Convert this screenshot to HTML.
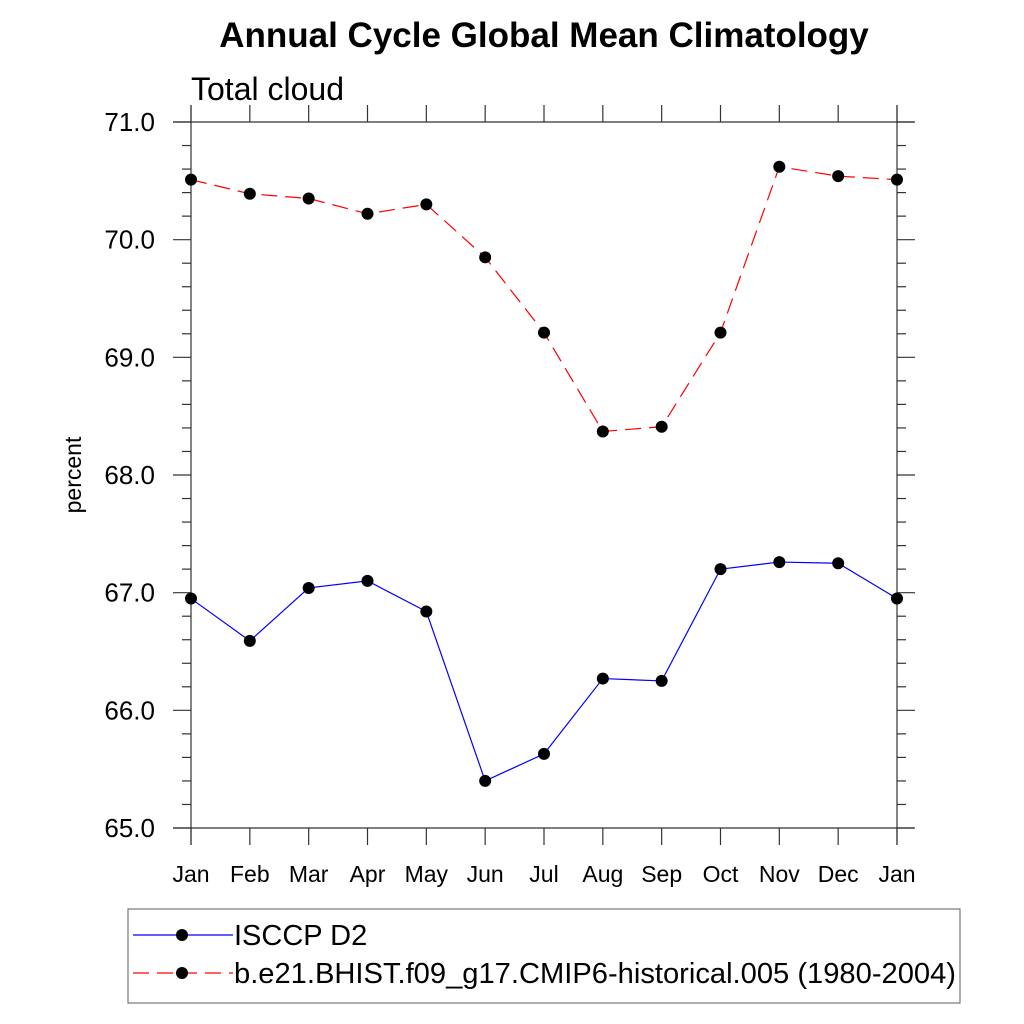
<!DOCTYPE html>
<html><head><meta charset="utf-8"><style>
body{margin:0;background:#fff;}
svg{display:block;font-family:"Liberation Sans",Arial,sans-serif;}
</style></head><body>
<svg id="chart" width="1024" height="1024" viewBox="0 0 1024 1024" xmlns="http://www.w3.org/2000/svg">
<rect width="1024" height="1024" fill="#fff"/>
<text x="544" y="47" text-anchor="middle" font-size="35" font-weight="bold">Annual Cycle Global Mean Climatology</text>
<text x="191" y="100" font-size="32">Total cloud</text>
<text transform="translate(81,475) rotate(-90)" text-anchor="middle" font-size="23">percent</text>
<g id="axes"></g>
<g id="series"></g>
<g>
<rect x="128" y="909" width="832" height="94" fill="none" stroke="#777" stroke-width="1.2"/>
<g>
<line x1="133" y1="935" x2="233" y2="935" stroke="#00f" stroke-width="1.2"/>
<circle cx="182" cy="935" r="6" fill="#000"/>
<text x="234" y="945" font-size="29">ISCCP D2</text>
</g>
<g>
<line x1="133" y1="973" x2="233" y2="973" stroke="#f00" stroke-width="1.2" stroke-dasharray="16,8"/>
<circle cx="182" cy="973" r="6" fill="#000"/>
<text x="234" y="983" font-size="29" textLength="722" lengthAdjust="spacingAndGlyphs">b.e21.BHIST.f09_g17.CMIP6-historical.005 (1980-2004)</text>
</g>
</g>
</svg>
<script>
const months = ["Jan","Feb","Mar","Apr","May","Jun","Jul","Aug","Sep","Oct","Nov","Dec","Jan"];
const isccp = [66.95,66.59,67.04,67.10,66.84,65.40,65.63,66.27,66.25,67.20,67.26,67.25,66.95];
const cmip6 = [70.51,70.39,70.35,70.22,70.30,69.85,69.21,68.37,68.41,69.21,70.62,70.54,70.51];
const yTicks = [65,66,67,68,69,70,71];
const yTickLabels = ["65.0","66.0","67.0","68.0","69.0","70.0","71.0"];

const NS="http://www.w3.org/2000/svg";
const X0=191,X1=897,Y0=828,Y1=122,YMIN=65,YMAX=71;
function xs(i){return X0+(X1-X0)*i/(months.length-1);}
function ys(v){return Y0-(v-YMIN)/(YMAX-YMIN)*(Y0-Y1);}
function mk(tag,attrs,parent){const e=document.createElementNS(NS,tag);for(const k in attrs)e.setAttribute(k,attrs[k]);parent.appendChild(e);return e;}
const ax=document.getElementById('axes');
const st="#333";
let l;
l=mk('line',{x1:173,y1:Y1,x2:914,y2:Y1,stroke:st,'stroke-width':1.2},ax);


l=mk('line',{x1:173,y1:Y0,x2:914,y2:Y0,stroke:st,'stroke-width':1.2},ax);


l=mk('line',{x1:X0,y1:105,x2:X0,y2:845,stroke:st,'stroke-width':1.2},ax);


l=mk('line',{x1:X1,y1:105,x2:X1,y2:845,stroke:st,'stroke-width':1.2},ax);


months.forEach((m,i)=>{
  const x=xs(i);
  mk('line',{x1:x,y1:Y0,x2:x,y2:845,stroke:st,'stroke-width':1.2},ax);
  mk('line',{x1:x,y1:105,x2:x,y2:Y1,stroke:st,'stroke-width':1.2},ax);
  const t=mk('text',{x:x,y:882,'text-anchor':'middle','font-size':23},ax);
  t.textContent=m;
  
  
});
for(let v=YMIN;v<=YMAX+1e-9;v+=0.2){
  const y=ys(v);
  const major=Math.abs(v-Math.round(v))<1e-6;
  const len=major?18:9;
  mk('line',{x1:X0-len,y1:y,x2:X0,y2:y,stroke:st,'stroke-width':1.2},ax);
  mk('line',{x1:X1,y1:y,x2:X1+len,y2:y,stroke:st,'stroke-width':1.2},ax);
}
yTicks.forEach((v,i)=>{
  const t=mk('text',{x:155,y:ys(v)+9,'text-anchor':'end','font-size':26},ax);
  t.textContent=yTickLabels[i];
  
  
});
const sg=document.getElementById('series');
function draw(vals,color,dash,name){
  const g=mk('g',{},sg);
  
  
  const p=mk('polyline',{points:vals.map((v,i)=>xs(i)+','+ys(v)).join(' '),fill:'none',stroke:color,'stroke-width':1.2},g);
  if(dash)p.setAttribute('stroke-dasharray',dash);
  
  
  vals.forEach((v,i)=>{
    const c=mk('circle',{cx:xs(i),cy:ys(v),r:6,fill:'#000'},g);
    
    
  });
}
draw(isccp,'#00f',null,'isccp-series');
draw(cmip6,'#f00','16,8','cmip6-series');
</script>
</body></html>
